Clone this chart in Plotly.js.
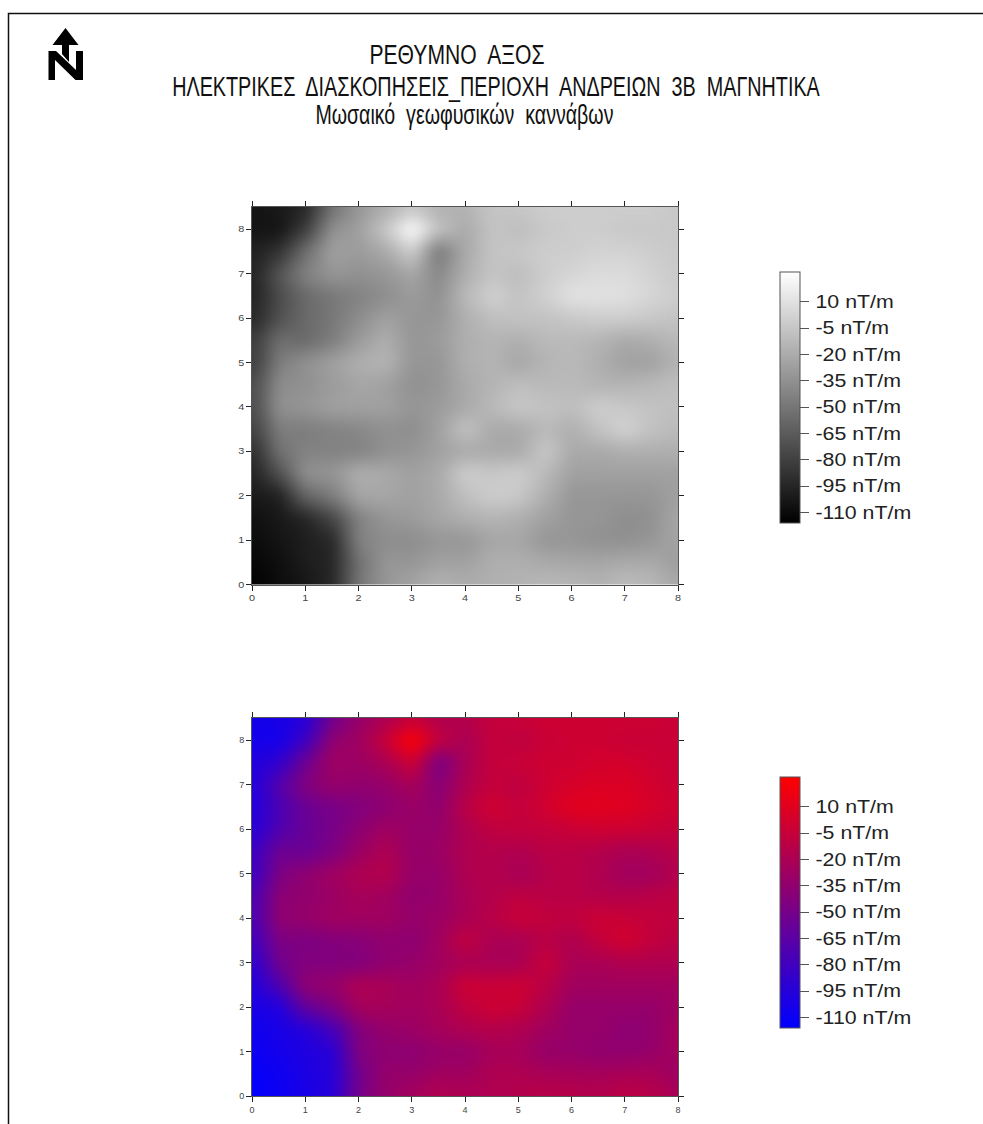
<!DOCTYPE html>
<html><head><meta charset="utf-8">
<script src="https://cdn.plot.ly/plotly-3.0.1.min.js"></script>
<style>html,body{margin:0;padding:0;background:#fff}</style></head>
<body><div id="chart" style="width:983px;height:1124px"></div>
<script>
const titleLine1 = "ΡΕΘΥΜΝΟ  ΑΞΟΣ";
const titleLine2 = "ΗΛΕΚΤΡΙΚΕΣ  ΔΙΑΣΚΟΠΗΣΕΙΣ_ΠΕΡΙΟΧΗ  ΑΝΔΡΕΙΩΝ  3Β  ΜΑΓΝΗΤΙΚΑ";
const titleLine3 = "Μωσαικό  γεωφυσικών  καννάβων";
const xNodes = [0,0.5,1,1.5,2,2.5,3,3.5,4,4.5,5,5.5,6,6.5,7,7.5,8];
const yNodes = [8.5,8,7.5,7,6.5,6,5.5,5,4.5,4,3.5,3,2.5,2,1.5,1,0.5,0];
const fieldNT = [
 [-105,-102, -96, -54, -32, -21,  -9, -18, -15,  -6,  -4,  -1,  -1,  -1,  -1,  -1,  -4],
 [-105,-105, -82, -35, -26,  -4,  27,  -7, -21,  -6, -10,  -4,  -1,  -1,  -4,  -4,  -4],
 [ -99, -88, -54, -26, -29, -21,  -1, -49, -21,  -6,  -4,  -1,  -1,   2,   2,  -1,  -4],
 [ -99, -68, -43, -32, -35, -32, -23, -40, -18,  -6, -10,  -1,   4,   7,   7,   2,  -4],
 [ -99, -74, -57, -49, -43, -37, -29, -35, -12,   1,  -7,   1,  11,  11,   9,   4,  -2],
 [ -96, -71, -57, -49, -37, -26, -32, -32, -18,  -9,  -7,  -7,  -4,  -1,  -1,  -4,  -7],
 [ -85, -54, -57, -46, -29, -18, -32, -29, -18, -15, -18, -12, -12, -15, -21, -18, -12],
 [ -85, -46, -35, -26, -18, -15, -32, -32, -18, -15, -23, -15, -12, -18, -26, -26, -15],
 [ -77, -37, -35, -29, -23, -26, -35, -32, -21, -15,  -9, -12, -12, -15, -15, -12,  -9],
 [ -77, -35, -32, -26, -26, -26, -32, -29, -21, -12,  -4,  -7,  -9,  -1,  -4,  -7,  -9],
 [ -82, -46, -46, -43, -40, -35, -37, -26,  -7, -21, -21, -12, -18,  -7,   2,  -7, -12],
 [ -94, -52, -43, -43, -43, -35, -32, -26, -21, -21, -21,  -4, -21, -21, -18, -18, -18],
 [ -99, -71, -35, -32, -18, -21, -26, -21,  -1,  -4,  -1, -12, -26, -26, -26, -26, -26],
 [-102, -99, -60, -46, -23, -23, -26, -21,  -9,  -1,  -4, -18, -32, -32, -32, -32, -26],
 [-108,-102, -96, -77, -43, -32, -29, -23, -18, -15, -18, -26, -32, -32, -37, -35, -21],
 [-110,-105, -99, -94, -43, -37, -37, -32, -32, -23, -23, -32, -32, -35, -35, -32, -23],
 [-113,-108,-100, -95, -52, -32, -32, -26, -26, -18, -18, -21, -23, -23, -21, -21, -29],
 [-116,-109,-104, -94, -49, -32, -23, -15, -18, -18, -15, -12, -12, -15,  -9, -12, -21]
];
const barTicks = [10,-5,-20,-35,-50,-65,-80,-95,-110];
const grayScale = [[0,"#000000"],[1,"#ffffff"]];
const redBlueScale = [[0,"#0000ff"],[1,"#ff0000"]];
const W = 983, H = 1124;
const zLow = -116, zHigh = 27;
const px = v => v / W, py = v => 1 - v / H;
const P = (x, y) => px(x).toFixed(5) + "," + py(y).toFixed(5);
const iconPath = "M" + [[65.5,28],[78.5,45],[69,45],[69,62],[62,54],[62,45],[52.5,45]].map(a=>P(a[0],a[1])).join("L") + "Z" +
 "M" + [[48.5,51],[56,51],[76,70],[76,51],[83,51],[83,80],[75.5,80],[55,60],[55,80],[48.5,80]].map(a=>P(a[0],a[1])).join("L") + "Z";
const font = "Liberation Sans, Arial, sans-serif";
function bar(top) {
  return {title:{text:""}, x:px(780), xanchor:"left", xpad:0, y:py(top), yanchor:"top", ypad:0,
    lenmode:"pixels", len:251, thicknessmode:"pixels", thickness:20,
    tickmode:"array", tickvals:barTicks, ticktext:barTicks.map(v=>v+" nT/m"),
    ticks:"outside", ticklen:9, tickwidth:1, tickcolor:"#555",
    tickfont:{family:font,size:17.5,color:"#222"}, outlinewidth:1, outlinecolor:"#555", borderwidth:0};
}
function heat(scale, xa, ya, top) {
  return {type:"heatmap", x:xNodes, y:yNodes, z:fieldNT, zmin:zLow, zmax:zHigh, zsmooth:"best",
    colorscale:scale, xaxis:xa, yaxis:ya, colorbar:bar(top), hovertemplate:"%{x}, %{y}: %{z} nT/m<extra></extra>"};
}
const axisStyle = {tickmode:"linear", tick0:0, dtick:1, ticks:"outside", ticklen:5, tickwidth:1, tickcolor:"#222",
  mirror:"ticks", showline:true, linecolor:"#555", linewidth:1, showgrid:false, zeroline:false,
  tickfont:{family:font,size:9,color:"#444"}};
function xAxis(anchor){ return Object.assign({domain:[px(252),px(678)], range:[0,8], anchor}, axisStyle);}
function yAxis(anchor, top, bottom){ return Object.assign({domain:[py(bottom),py(top)], range:[0,8.5], anchor}, axisStyle);}
const data = [heat(grayScale,"x","y",272), heat(redBlueScale,"x2","y2",777)];
const titleFont = {family:font,size:27,color:"#111"};
const layout = {
  width:W, height:H, margin:{l:0,r:0,t:0,b:0,autoexpand:false}, paper_bgcolor:"#fff", plot_bgcolor:"#fff",
  title:{text:titleLine2, x:px(496), xanchor:"center", xref:"paper", y:py(87), yanchor:"middle", yref:"paper", font:titleFont},
  xaxis:xAxis("y"), yaxis:yAxis("x",207,584.5),
  xaxis2:xAxis("y2"), yaxis2:yAxis("x2",718,1096),
  annotations:[
    {text:titleLine1, xref:"paper", yref:"paper", x:px(457), y:py(55), xanchor:"center", yanchor:"middle", showarrow:false, font:titleFont},
    {text:titleLine3, xref:"paper", yref:"paper", x:px(464), y:py(115), xanchor:"center", yanchor:"middle", showarrow:false, font:titleFont}
  ],
  shapes:[
    {type:"path", xref:"paper", yref:"paper", path:"M"+P(983,13.5)+"L"+P(8.5,13.5)+"L"+P(8.5,1124), line:{color:"#111",width:1.5}, fillcolor:"rgba(0,0,0,0)"},
    {type:"path", xref:"paper", yref:"paper", path:iconPath, line:{width:0}, fillcolor:"#000"}
  ]
};
const fit = (el, w) => { el.setAttribute("textLength", w); el.setAttribute("lengthAdjust", "spacingAndGlyphs"); };
Plotly.newPlot("chart", data, layout, {displayModeBar:false}).then(gd => {
  const root = gd.querySelector(".main-svg");
  const NS = "http://www.w3.org/2000/svg";
  const defs = root.querySelector("defs") || root.insertBefore(document.createElementNS(NS,"defs"), root.firstChild);
  const f = document.createElementNS(NS,"filter");
  f.setAttribute("id","soften"); f.setAttribute("color-interpolation-filters","sRGB");
  f.setAttribute("x","0"); f.setAttribute("y","0"); f.setAttribute("width","1"); f.setAttribute("height","1");
  f.innerHTML = '<feGaussianBlur stdDeviation="6"/><feComponentTransfer><feFuncA type="linear" slope="100"/></feComponentTransfer>';
  defs.appendChild(f);
  gd.querySelectorAll(".hm image").forEach(im => im.setAttribute("filter","url(#soften)"));
  const tt = gd.querySelector(".gtitle");
  const k = 648 / tt.getComputedTextLength();
  const cx = 496;
  tt.setAttribute("transform", (tt.getAttribute("transform") || "") + ` translate(${cx},0) scale(${k},1) translate(${-cx},0)`);
  const ann = gd.querySelectorAll(".annotation-text");
  if (ann[0]) fit(ann[0], 175);
  if (ann[1]) fit(ann[1], 298);
  gd.querySelectorAll(".colorbar text, .cbaxis text").forEach(t => {
    const L = t.getComputedTextLength();
    if (L > 0) { fit(t, L * 1.22); t.setAttribute("dx", 3); }
  });
  gd.querySelectorAll(".xtick text, .ytick text").forEach(t => {
    if (t.closest(".colorbar, .cbaxis")) return;
    const L = t.getComputedTextLength();
    if (L > 0) fit(t, L * 1.2);
  });
});
</script></body></html>
